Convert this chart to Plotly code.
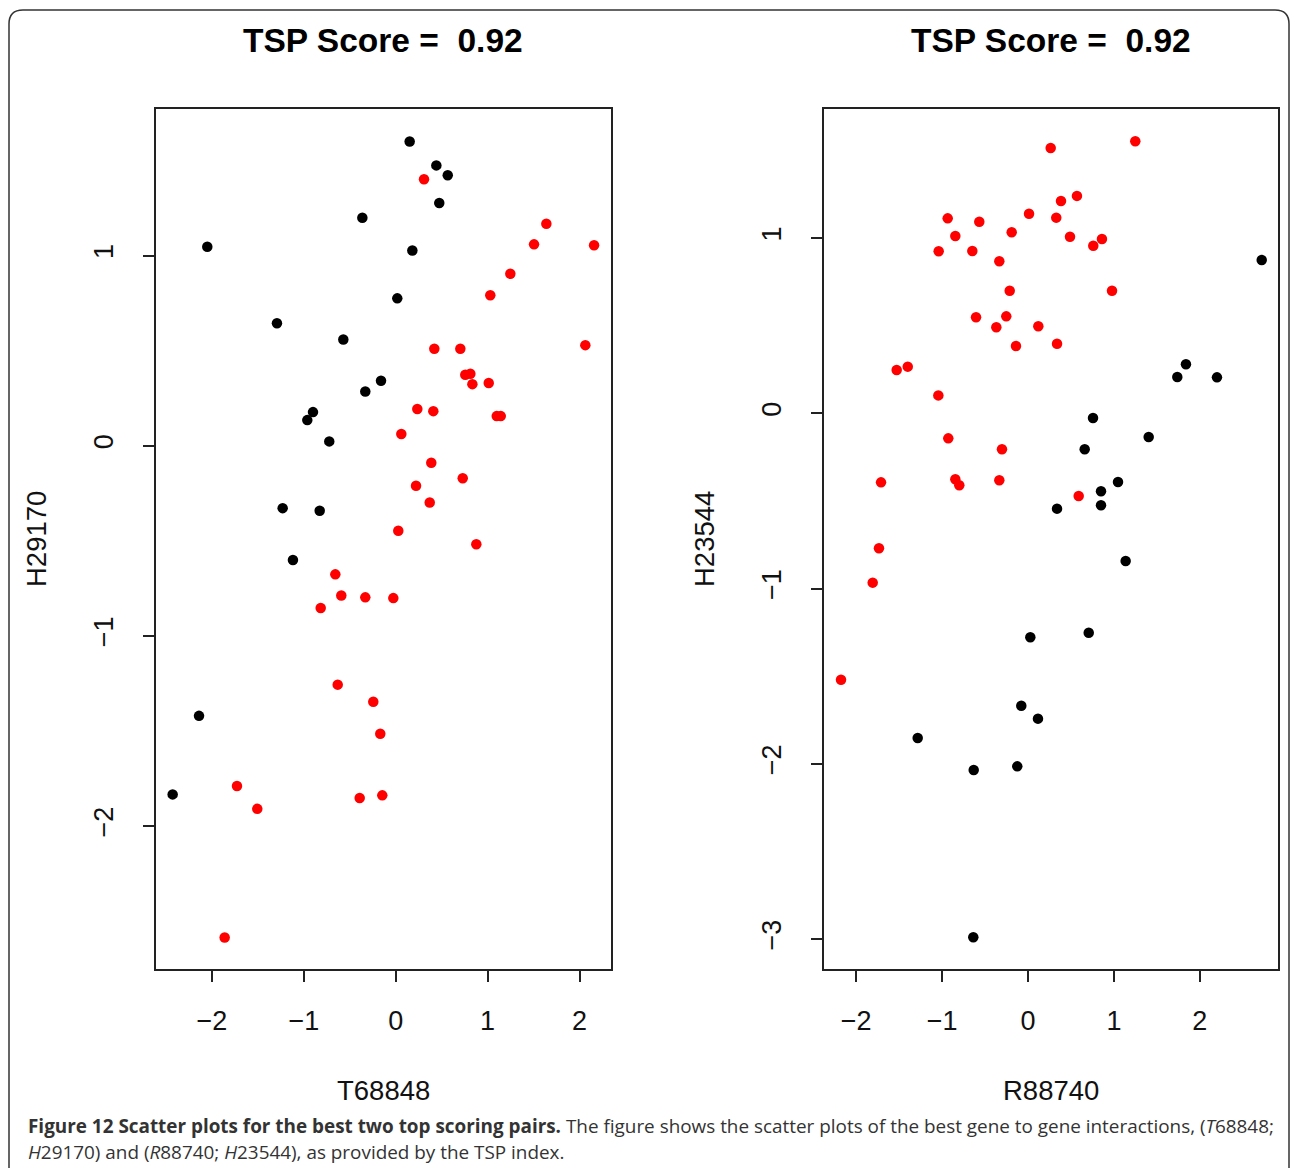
import plotly.graph_objects as go

# ---------------- data ----------------
# Left panel: T68848 (x) vs H29170 (y)
left_black_x = [0.152, 0.442, 0.566, 0.474, -2.050, -0.363, 0.181, -1.292, -0.570, 0.017,
                -0.160, -0.331, -0.900, -0.962, -0.723, -1.230, -0.827, -1.118, -2.140, -2.427]
left_black_y = [1.600, 1.474, 1.422, 1.276, 1.046, 1.199, 1.027, 0.644, 0.559, 0.775,
                0.342, 0.285, 0.177, 0.135, 0.023, -0.328, -0.342, -0.601, -1.420, -1.833]
left_red_x = [0.308, 1.639, 1.505, 2.158, 1.247, 1.029, 0.420, 0.703, 2.063, 0.757,
              0.812, 0.834, 1.012, 0.235, 0.409, 1.099, 1.143, 0.061, 0.387, 0.729,
              0.221, 0.370, 0.028, 0.877, -0.026, -0.657, -0.592, -0.331, -0.816, -0.631,
              -0.244, -0.168, -1.727, -1.506, -0.392, -0.146, -1.861]
left_red_y = [1.401, 1.167, 1.059, 1.054, 0.904, 0.791, 0.510, 0.510, 0.529, 0.373,
              0.379, 0.324, 0.330, 0.193, 0.182, 0.156, 0.156, 0.062, -0.089, -0.171,
              -0.210, -0.298, -0.447, -0.518, -0.801, -0.676, -0.787, -0.797, -0.853, -1.256,
              -1.346, -1.514, -1.789, -1.909, -1.852, -1.838, -2.585]

# Right panel: R88740 (x) vs H23544 (y)
right_black_x = [0.757, 1.405, 0.660, 1.048, 0.850, 0.850, 0.338, 1.137, 0.707, 0.027,
                 -0.078, 0.116, -1.284, -0.632, -0.125, -0.637, 2.721, 1.839, 1.738, 2.200]
right_black_y = [-0.027, -0.135, -0.205, -0.392, -0.445, -0.525, -0.544, -0.843, -1.252, -1.278,
                 -1.668, -1.742, -1.852, -2.035, -2.014, -2.989, 0.874, 0.280, 0.207, 0.205]
right_red_x = [0.264, 1.249, -0.935, -0.567, 0.012, 0.329, 0.384, 0.570, 0.489, 0.861,
               0.760, 0.978, -0.846, -1.040, -0.648, -0.334, -0.190, -0.213, -0.605, -0.253,
               -0.369, 0.120, -0.140, 0.338, -1.529, -1.400, -1.044, -0.928, -0.303, -1.711,
               -0.846, -0.800, -0.334, -1.735, -1.808, -2.177, 0.590]
right_red_y = [1.513, 1.552, 1.112, 1.093, 1.138, 1.116, 1.211, 1.240, 1.007, 0.994,
               0.956, 0.699, 1.011, 0.924, 0.926, 0.867, 1.033, 0.699, 0.548, 0.553,
               0.491, 0.496, 0.384, 0.397, 0.247, 0.266, 0.102, -0.143, -0.205, -0.394,
               -0.376, -0.411, -0.382, -0.770, -0.966, -1.520, -0.472]

titles = ["TSP Score =  0.92", "TSP Score =  0.92"]
x_labels = ["T68848", "R88740"]
y_labels = ["H29170", "H23544"]
left_xticks = [-2, -1, 0, 1, 2]
left_yticks = [-2, -1, 0, 1]
right_xticks = [-2, -1, 0, 1, 2]
right_yticks = [-3, -2, -1, 0, 1]

caption_line1 = ("<b>Figure 12 Scatter plots for the best two top scoring pairs.</b> "
                 "The figure shows the scatter plots of the best gene to gene interactions, (<i>T</i>68848;")
caption_line2 = "<i>H</i>29170) and (<i>R</i>88740; <i>H</i>23544), as provided by the TSP index."

# ---------------- layout helpers ----------------
W, H = 1290, 1168
def px(x):
    return x / W
def py(y):
    return 1 - y / H

RED = "#FF0000"
BLACK = "#000000"
MS = 10.5
FONT = "Liberation Sans"

fig = go.Figure()

fig.add_trace(go.Scatter(x=left_black_x, y=left_black_y, mode="markers",
                         marker=dict(color=BLACK, size=MS), xaxis="x", yaxis="y", showlegend=False))
fig.add_trace(go.Scatter(x=left_red_x, y=left_red_y, mode="markers",
                         marker=dict(color=RED, size=MS), xaxis="x", yaxis="y", showlegend=False))
fig.add_trace(go.Scatter(x=right_black_x, y=right_black_y, mode="markers",
                         marker=dict(color=BLACK, size=MS), xaxis="x2", yaxis="y2", showlegend=False))
fig.add_trace(go.Scatter(x=right_red_x, y=right_red_y, mode="markers",
                         marker=dict(color=RED, size=MS), xaxis="x2", yaxis="y2", showlegend=False))

axis_common = dict(showline=True, linecolor="#222222", linewidth=2, mirror=True,
                   ticks="outside", ticklen=11, tickwidth=1.5, tickcolor="#222222",
                   showgrid=False, zeroline=False,
                   tickfont=dict(family=FONT, size=27, color="#111111"))

ydom = [py(969), py(109.3)]
fig.update_layout(
    width=W, height=H,
    margin=dict(l=0, r=0, t=0, b=0),
    paper_bgcolor="white", plot_bgcolor="white",
    xaxis=dict(domain=[px(156), px(610.7)], range=[-2.608, 2.339], anchor="y",
               tickvals=left_xticks, ticklabelstandoff=16, **axis_common),
    yaxis=dict(domain=ydom, range=[-2.751, 1.769], anchor="x",
               tickvals=left_yticks, tickangle=-90, ticklabelstandoff=19, **axis_common),
    xaxis2=dict(domain=[px(824), px(1277.7)], range=[-2.375, 2.907], anchor="y2",
                tickvals=right_xticks, ticklabelstandoff=16, **axis_common),
    yaxis2=dict(domain=ydom, range=[-3.170, 1.734], anchor="x2",
                tickvals=right_yticks, tickangle=-90, ticklabelstandoff=19, **axis_common),
)

ann = []
centers = [(156 + 610.7) / 2, (824 + 1277.7) / 2]
ycenters = [36, 704]
for i in range(2):
    ann.append(dict(text="<b>" + titles[i] + "</b>", x=px(centers[i]), y=py(40),
                    xref="paper", yref="paper", showarrow=False, xanchor="center", yanchor="middle",
                    font=dict(family=FONT, size=33.5, color="#000000")))
    ann.append(dict(text=x_labels[i], x=px(centers[i]), y=py(1090),
                    xref="paper", yref="paper", showarrow=False, xanchor="center", yanchor="middle",
                    font=dict(family=FONT, size=27.5, color="#111111")))
    ann.append(dict(text=y_labels[i], x=px(ycenters[i]), y=py(539),
                    xref="paper", yref="paper", showarrow=False, xanchor="center", yanchor="middle",
                    textangle=-90,
                    font=dict(family=FONT, size=27.5, color="#111111")))

ann.append(dict(text=caption_line1, x=px(26), y=py(1126), xref="paper", yref="paper",
                showarrow=False, xanchor="left", yanchor="middle",
                font=dict(family="Open Sans", size=18.9, color="#333333")))
ann.append(dict(text=caption_line2, x=px(26), y=py(1152), xref="paper", yref="paper",
                showarrow=False, xanchor="left", yanchor="middle",
                font=dict(family="Open Sans", size=18.9, color="#333333")))
fig.update_layout(annotations=ann)

# outer rounded frame
r = 14
path = (f"M {px(9)},{py(H)} L {px(9)},{py(10 + r)} Q {px(9)},{py(10)} {px(9 + r)},{py(10)} "
        f"L {px(1289 - r)},{py(10)} Q {px(1289)},{py(10)} {px(1289)},{py(10 + r)} L {px(1289)},{py(H)}")
fig.add_shape(type="path", path=path, xref="paper", yref="paper",
              line=dict(color="#333333", width=1.5))

fig.write_html("out.html")
